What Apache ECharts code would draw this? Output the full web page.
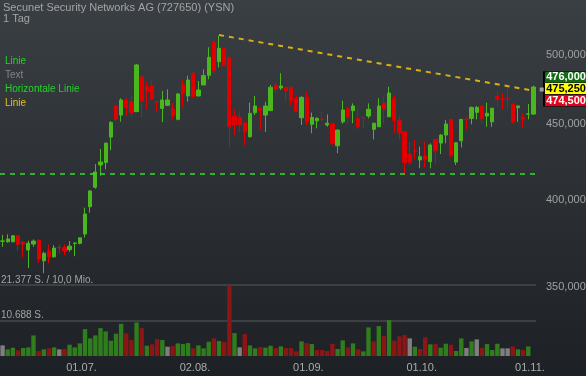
<!DOCTYPE html>
<html><head><meta charset="utf-8">
<script src="https://cdn.jsdelivr.net/npm/echarts@6/dist/echarts.min.js"></script>
<style>html,body{margin:0;padding:0;background:#2c3034}#c{width:586px;height:376px}</style>
</head><body><div id="c"></div>
<script>
// ---- data ----
const dates = [
'09.06.','10.06.','11.06.','14.06.','15.06.','16.06.','17.06.','18.06.','21.06.','22.06.','23.06.','24.06.','25.06.','28.06.','29.06.','30.06.',
'01.07.','02.07.','05.07.','06.07.','07.07.','08.07.','09.07.','12.07.','13.07.','14.07.','15.07.','16.07.','19.07.','20.07.','21.07.','22.07.','23.07.','26.07.','27.07.','28.07.','29.07.','30.07.',
'02.08.','03.08.','04.08.','05.08.','06.08.','09.08.','10.08.','11.08.','12.08.','13.08.','16.08.','17.08.','18.08.','19.08.','20.08.','23.08.','24.08.','25.08.','26.08.','27.08.','30.08.','31.08.',
'01.09.','02.09.','03.09.','06.09.','07.09.','08.09.','09.09.','10.09.','13.09.','14.09.','15.09.','16.09.','17.09.','20.09.','21.09.','22.09.','23.09.','24.09.','27.09.','28.09.','29.09.','30.09.',
'01.10.','04.10.','05.10.','06.10.','07.10.','08.10.','11.10.','12.10.','13.10.','14.10.','15.10.','18.10.','19.10.','20.10.','21.10.','22.10.','25.10.','26.10.','27.10.','28.10.','29.10.',
'01.11.'];
const open = [
375500,375200,375200,378700,375000,370500,373900,376200,364400,369900,
366600,371900,371900,370700,374300,374300,379700,396000,408000,422200,
423800,440700,462300,455900,466600,465400,458300,483400,476200,476700,
465500,460600,462800,460200,452900,477500,469500,486200,469500,477500,
484600,510100,494900,505200,498200,455200,454300,450500,441000,457600,
460900,455900,459000,477500,475300,475800,475800,467800,454000,468500,
449500,451900,453100,449000,449700,434900,451200,460700,459000,453600,
454300,455200,446000,447800,464200,454700,467800,452400,444300,429400,
431500,425500,428100,424400,439200,436700,442100,452900,424100,438200,
453100,453600,457800,462300,455200,451200,469500,467300,467400,463700,
461100,454300,456500,456600];
const close = [
375700,376800,378700,373700,373900,374400,375600,365400,368600,366600,
371600,371600,369900,372700,374500,377500,391600,405700,417700,424200,
436700,450700,452900,466600,461300,457600,492400,466100,473100,467300,
465300,466600,466600,455700,470900,471400,481100,469000,473800,484400,
498200,487900,505200,491800,447800,449000,449000,444300,457100,462300,
459000,462300,475800,474600,476700,473300,466100,458300,468500,451200,
454300,453600,452900,450200,436500,445500,459500,454300,462300,447800,
454100,460000,450200,462300,460000,471600,452000,443600,423800,423800,
431300,427600,425900,435400,431500,442100,449700,428700,436900,452900,
452900,461300,461300,453600,457100,460700,467100,467100,467100,451200,
462300,453100,456700,476000];
const high = [
379100,379500,379100,378800,375600,375800,376600,376200,369500,373700,
373300,373700,373700,375600,374800,377500,395400,406300,422800,432800,
436700,451700,463000,467800,467800,469700,493100,484900,480000,481100,
465500,473100,474300,464700,471700,481100,484400,487400,480400,489100,
506000,511700,515000,505400,498400,459500,457600,451000,464700,469500,
461200,465400,477500,478700,486200,476000,476000,469500,469200,472600,
457600,454300,458300,456400,450500,446000,466100,461200,464200,460700,
454300,464200,450500,467800,469000,476200,469500,455200,444800,437600,
438700,434300,437600,436500,439400,442800,452400,453100,437400,453100,
453100,461900,462300,462600,464700,461000,473300,471000,476000,464100,
462600,457100,463700,477000];
const low = [
372300,374700,375000,370100,366600,360300,372300,363300,357500,362900,
366300,368600,367600,369500,367000,373700,377700,392400,407100,415300,
419400,431900,451900,451300,455200,454700,458000,454300,460200,466600,
458300,451000,462300,452900,452200,461400,465400,468800,469200,477500,
481700,486200,490600,491600,433200,442100,444300,435400,440300,455900,
445500,444300,458800,471400,473800,465400,462300,458000,449000,449000,
443300,446700,451300,447800,435400,429900,449900,449900,450300,446200,
446700,453600,439200,447600,450000,454500,443600,439400,415800,422200,
426000,420100,420700,420100,422900,429400,436500,427200,422200,433800,
446000,449500,452900,450300,447800,447800,462300,459500,460700,449900,
451200,447300,452900,456000];
const volume = [
3200,2000,2500,1700,2400,2600,6200,1500,2000,2300,
2600,2000,2100,3400,2600,3800,8100,5300,6200,8400,
7400,4600,6700,9700,6800,4800,10100,8400,3100,3500,
5100,4800,2800,3000,3800,3600,3900,2300,3200,2300,
4300,5300,4500,4200,21377,6900,2600,6600,3200,2300,
2700,2500,3100,2400,2900,2400,2400,1400,4400,3900,
3600,1800,1800,1500,3700,2100,4700,2600,3800,2000,
1400,8600,4400,9000,6000,10800,4600,5900,6300,5300,
2800,2100,5600,3500,3700,2500,3700,3400,1500,5300,
2400,4400,5000,2500,3600,1800,3700,2300,2300,2900,
2000,1800,2900,null];
const xTickLabels = ['01.07.','02.08.','01.09.','01.10.','01.11.'];
const priceTicks = [350000,400000,450000,500000];
const volumeMax = 21377;
const volumeTickLabels = ['21.377 S. / 10,0 Mio.','10.688 S.'];
const quoteValues = [476000,475250,474500];   // ask, last, bid
const trendLine = [['06.08.',515600],['01.11.',473300]];
const supportLevel = 415800;
const toolLabels = ['Linie','Text','Horizontale Linie','Linie'];
const titleText = 'Secunet Security Networks AG (727650) (YSN)';
const subTitle = '1 Tag';

// ---- styling / build ----
const UP='#4ab81c', DOWN='#e00000';
const VUP='#2f7d1c', VDOWN='#8c1616', VFLAT='#7f7f7f';
const FONT='"Liberation Sans", Arial, sans-serif';
const L = Math.log;
const fmt = v => String(Math.round(v)).replace(/\B(?=(\d{3})+(?!\d))/g, ',');

const candleData = dates.map((d,i)=>[L(open[i]),L(close[i]),L(low[i]),L(high[i])]);
const volData = volume.map((v,i)=>{
  let c = VFLAT;
  if (i>0) { if (close[i]>close[i-1]) c=VUP; else if (close[i]<close[i-1]) c=VDOWN; }
  return {value:v, itemStyle:{color:c}};
});
const last = dates[dates.length-1];
const quoteStyles = [
  {bg:'#116b14', fg:'#ffffff', dy:-9.7},
  {bg:'#ffff00', fg:'#000000', dy:0.5},
  {bg:'#e3001b', fg:'#ffffff', dy:11.5}
];
const markPoints = quoteValues.map((q,k)=>({
  coord:[last, L(q)], value:q, symbol:'rect', symbolSize:[44,11.5],
  symbolOffset:[32.6, quoteStyles[k].dy],
  itemStyle:{color:quoteStyles[k].bg, borderColor:'#000', borderWidth:1},
  label:{show:true, position:'inside', formatter:p=>fmt(p.value), color:quoteStyles[k].fg,
    fontSize:11, fontWeight:'bold', fontFamily:FONT}
}));
markPoints.push({coord:[last, L(quoteValues[1])], symbol:'rect', symbolSize:[4,4],
  symbolOffset:[8.3,1.5], itemStyle:{color:'#a0a0a0'}, label:{show:false}});

const toolColors = ['#25d325','#858585','#25d325','#e6c21c'];
const graphics = toolLabels.map((t,k)=>({type:'text', x:5, y:61+k*14,
  style:{text:t, fill:toolColors[k], font:'10px '+FONT, verticalAlign:'middle', textVerticalAlign:'middle'}}));

const chart = echarts.init(document.getElementById('c'), null, {renderer:'canvas'});
chart.setOption({
  animation:false,
  backgroundColor:{type:'linear',x:0,y:0,x2:0,y2:1,colorStops:[{offset:0,color:'#3a3f43'},{offset:0.5,color:'#2c3034'},{offset:1,color:'#1d2024'}]},
  textStyle:{fontFamily:FONT},
  title:{text:titleText+'\n'+subTitle, left:3, top:2, padding:0,
    textStyle:{fontSize:11, fontWeight:'normal', color:'#a4a4a4', lineHeight:11, fontFamily:FONT}},
  graphic:graphics,
  grid:[
    {left:0, width:536, top:20, height:336, outerBoundsMode:'none', containLabel:false},
    {left:0, width:536, top:285, height:71, outerBoundsMode:'none', containLabel:false}
  ],
  xAxis:[
    {type:'category', data:dates, gridIndex:0, boundaryGap:true, show:false},
    {type:'category', data:dates, gridIndex:1, boundaryGap:true,
      axisLine:{show:false}, axisTick:{show:false}, splitLine:{show:false},
      axisLabel:{interval:(i,v)=>xTickLabels.includes(v), color:'#acacac', fontSize:11, margin:6, padding:[0,7,0,0], fontFamily:FONT}}
  ],
  yAxis:[
    {type:'value', gridIndex:0, position:'right', min:L(314780), max:L(527640),
      axisLine:{show:false}, axisTick:{show:false}, splitLine:{show:false},
      axisLabel:{customValues:priceTicks.map(L), formatter:v=>fmt(Math.exp(v)), color:'#a0a0a0', fontSize:11, margin:10, fontFamily:FONT}},
    {type:'value', gridIndex:1, position:'left', min:0, max:volumeMax, interval:volumeMax/2,
      axisLine:{show:false}, axisTick:{show:false},
      splitLine:{show:true, lineStyle:{color:['rgba(0,0,0,0)','#46494d','#46494d'], width:1.5}},
      axisLabel:{inside:true, align:'left', verticalAlign:'bottom', margin:1, color:'#a3a3a3', fontSize:10, fontFamily:FONT,
        formatter:v=> v>=volumeMax ? volumeTickLabels[0] : (v>0 ? volumeTickLabels[1] : '')}}
  ],
  series:[
    {type:'bar', xAxisIndex:1, yAxisIndex:1, data:volData, barWidth:4.4, silent:true},
    {type:'candlestick', xAxisIndex:0, yAxisIndex:0, data:candleData, barWidth:3.8, clip:false, silent:true,
      itemStyle:{color:UP, color0:DOWN, borderColor:UP, borderColor0:DOWN, borderWidth:1},
      markLine:{silent:true, symbol:['none','none'], label:{show:false},
        data:[
          [{coord:[trendLine[0][0], L(trendLine[0][1])], lineStyle:{color:'#d8b014', width:2, type:[5,5]}},
           {coord:[trendLine[1][0], L(trendLine[1][1])]}],
          {yAxis:L(supportLevel), lineStyle:{color:'#2ee02e', width:1.5, type:[5,5]}}
        ]},
      markPoint:{silent:true, data:markPoints}
    }
  ]
});
</script></body></html>
